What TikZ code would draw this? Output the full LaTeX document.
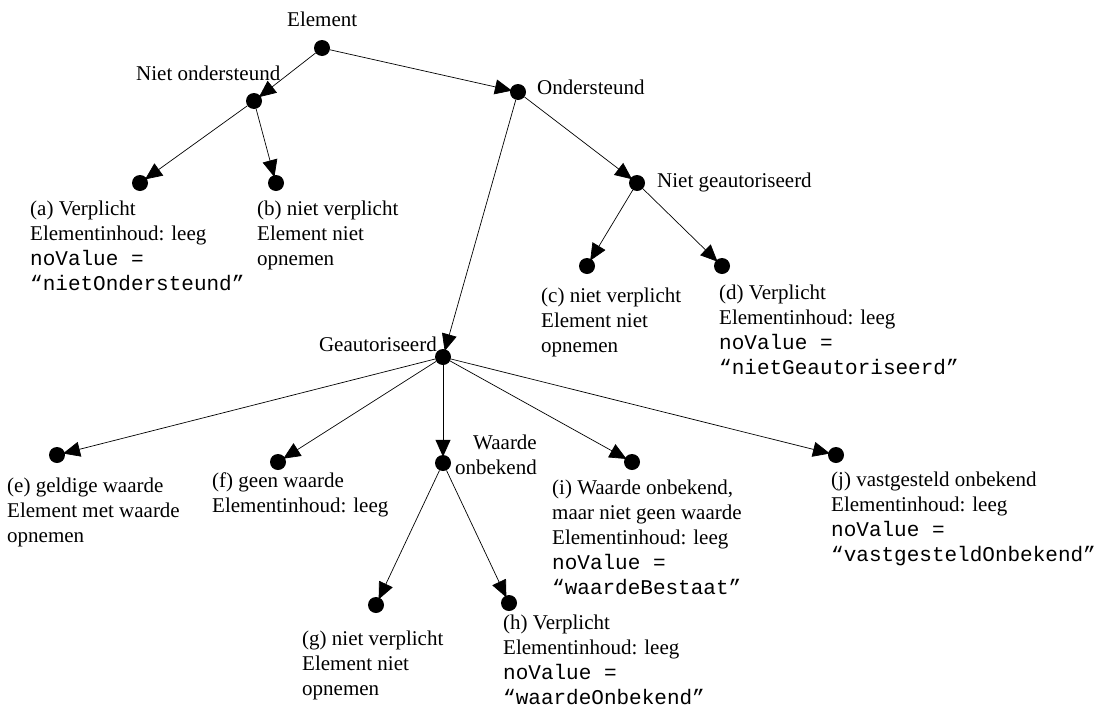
\documentclass[tikz,border=0pt]{standalone}
\usepackage{fontspec}
\setmainfont{Liberation Serif}
\setmonofont{Liberation Mono}
\usetikzlibrary{positioning,arrows.meta}
\tikzset{%
	dot/.style={%
		circle,
		fill=black,
		inner sep=0pt,
		minimum size=16pt
	},
	txt/.style={%
		anchor=base west,
		inner sep=0pt,
		align=left,
		font=\fontsize{21pt}{25pt}\selectfont
	},
	arr/.style={%
		line width=0.7pt,
		shorten >=-2pt,
		-{Triangle[length=17pt,width=15pt]}
	}
}

\begin{document}
\begin{tikzpicture}[x=1pt, y=-1pt]
        \useasboundingbox (0,0) rectangle (1100,707);
        \node [dot] (root) at (322,48) {};
        \node [dot] (nond) at (254,101) {};
        \node [dot] (ond) at (518,92) {};
        \node [dot] (a) at (140,183) {};
        \node [dot] (b) at (276,183) {};
        \node [dot] (ngeaut) at (637,183) {};
        \node [dot] (c) at (587,266) {};
        \node [dot] (d) at (722,266) {};
        \node [dot] (geaut) at (443,357) {};
        \node [dot] (e) at (57,455) {};
        \node [dot] (f) at (278,462) {};
        \node [dot] (wonb) at (443,463) {};
        \node [dot] (i) at (632,462) {};
        \node [dot] (j) at (836,455) {};
        \node [dot] (g) at (376,605) {};
        \node [dot] (h) at (509,603) {};
        \node [txt] (root-t) at (287,26) {Element};
        \node [txt] (nond-t) at (136,80) {Niet ondersteund};
        \node [txt] (ond-t) at (537,94) {Ondersteund};
        \node [txt] (ngeaut-t) at (657,187) {Niet geautoriseerd};
        \node [txt, anchor=base east] (geaut-t) at (437,351) {Geautoriseerd};
        \node [txt, anchor=base east, align=right] (wonb-t) at (537,474) {Waarde\\onbekend};
        \node [txt] (a-t) at (30,290) {(a) Verplicht\\Elementinhoud: leeg\\\texttt{noValue =}\\\texttt{“nietOndersteund”}};
        \node [txt] (b-t) at (257,265) {(b) niet verplicht\\Element niet\\opnemen};
        \node [txt] (c-t) at (541,352) {(c) niet verplicht\\Element niet\\opnemen};
        \node [txt] (d-t) at (719,374) {(d) Verplicht\\Elementinhoud: leeg\\\texttt{noValue =}\\\texttt{“nietGeautoriseerd”}};
        \node [txt] (e-t) at (7,542) {(e) geldige waarde\\Element met waarde\\opnemen};
        \node [txt] (f-t) at (212,512) {(f) geen waarde\\Elementinhoud: leeg};
        \node [txt] (i-t) at (552,594) {(i) Waarde onbekend,\\maar niet geen waarde\\Elementinhoud: leeg\\\texttt{noValue =}\\\texttt{“waardeBestaat”}};
        \node [txt] (j-t) at (831,561) {(j) vastgesteld onbekend\\Elementinhoud: leeg\\\texttt{noValue =}\\\texttt{“vastgesteldOnbekend”}};
        \node [txt] (g-t) at (302,695) {(g) niet verplicht\\Element niet\\opnemen};
        \node [txt] (h-t) at (503,704) {(h) Verplicht\\Elementinhoud: leeg\\\texttt{noValue =}\\\texttt{“waardeOnbekend”}};
        \draw [arr] (root) -- (nond);
        \draw [arr] (root) -- (ond);
        \draw [arr] (nond) -- (a);
        \draw [arr] (nond) -- (b);
        \draw [arr] (ond) -- (ngeaut);
        \draw [arr] (ond) -- (geaut);
        \draw [arr] (ngeaut) -- (c);
        \draw [arr] (ngeaut) -- (d);
        \draw [arr] (geaut) -- (e);
        \draw [arr] (geaut) -- (f);
        \draw [arr] (geaut) -- (wonb);
        \draw [arr] (geaut) -- (i);
        \draw [arr] (geaut) -- (j);
        \draw [arr] (wonb) -- (g);
        \draw [arr] (wonb) -- (h);
    \end{tikzpicture}
\end{document}
